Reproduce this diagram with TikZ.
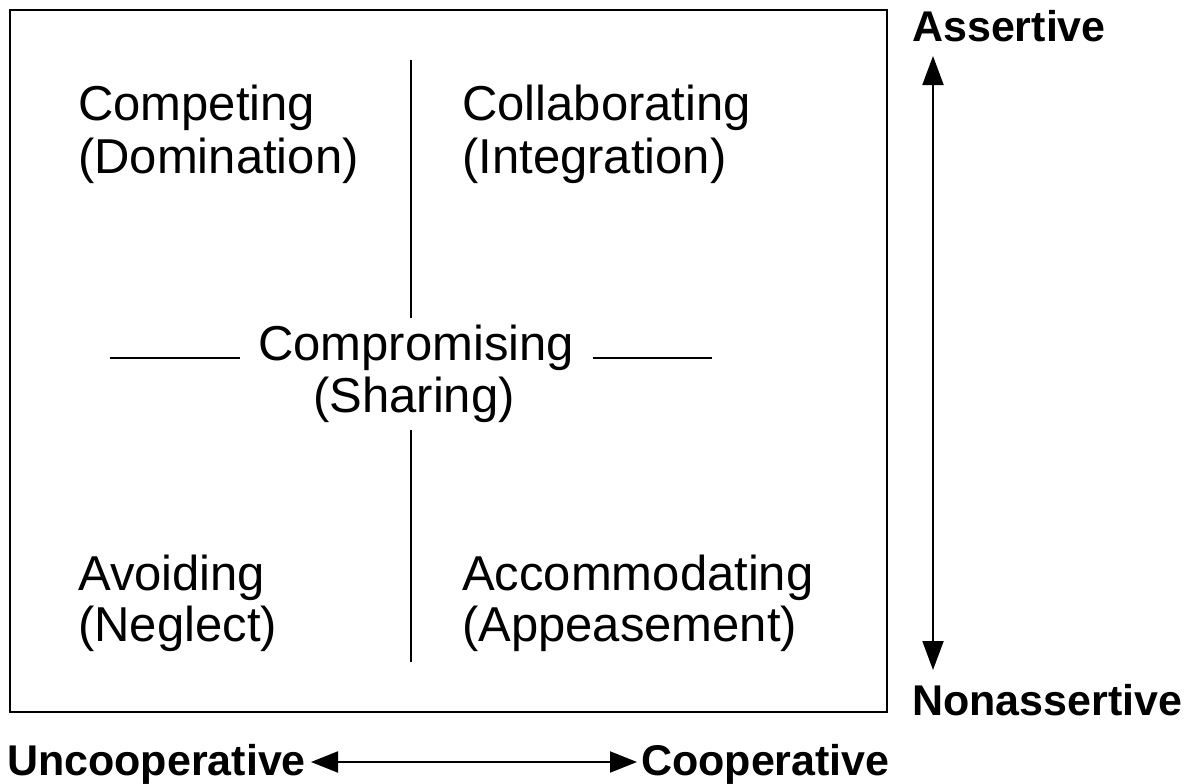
\documentclass[tikz,border=0pt]{standalone}
\usepackage{fontspec}
\setmainfont{Liberation Sans}
\usetikzlibrary{arrows.meta}
\tikzset{
  quad/.style={inner sep=0pt, anchor=base west, font=\fontsize{49}{53}\selectfont},
  mid/.style={inner sep=0pt, anchor=base, font=\fontsize{49}{53}\selectfont},
  axis/.style={inner sep=0pt, anchor=base west, font=\fontsize{43}{47}\selectfont\bfseries},
  frame/.style={line width=2pt},
  divider/.style={line width=2pt},
  dbl/.style={line width=2pt, {Triangle[length=29pt,width=21pt]}-{Triangle[length=29pt,width=21pt]}},
  dblh/.style={line width=2pt, {Triangle[length=27pt,width=21pt]}-{Triangle[length=27pt,width=21pt]}}
}
\begin{document}
\begin{tikzpicture}[x=1pt,y=-1pt]
\useasboundingbox (0,0) rectangle (1191,784);
\draw[frame] (10,10) rectangle (887,712);
% dividers
\coordinate (vt1) at (411,60);
\coordinate (vt2) at (411,318);
\coordinate (vb1) at (411,430);
\coordinate (vb2) at (411,662);
\coordinate (hl1) at (110,358);
\coordinate (hl2) at (240,358);
\coordinate (hr1) at (593,358);
\coordinate (hr2) at (712,358);
\draw[divider] (vt1) -- (vt2);
\draw[divider] (vb1) -- (vb2);
\draw[divider] (hl1) -- (hl2);
\draw[divider] (hr1) -- (hr2);
% quadrant labels
\node[quad] (compA) at (78,120) {Competing};
\node[quad] (compB) at (78,173) {(Domination)};
\node[quad] (collA) at (462,120) {Collaborating};
\node[quad] (collB) at (462,173) {(Integration)};
\node[mid] (cmpA) at (416,360) {Compromising};
\node[mid] (cmpB) at (414,412) {(Sharing)};
\node[quad] (avdA) at (78,590) {Avoiding};
\node[quad] (avdB) at (78,641) {(Neglect)};
\node[quad] (accA) at (462,590) {Accommodating};
\node[quad] (accB) at (462,641) {(Appeasement)};
% axes
\node[axis] (assert) at (912,42) {Assertive};
\node[axis] (nonassert) at (912,715) {Nonassertive};
\node[axis] (uncoop) at (7,775) {Uncooperative};
\node[axis] (coop) at (641,775) {Cooperative};
\coordinate (vtop) at (933,56);
\coordinate (vbot) at (933,670);
\draw[dbl] (vtop) -- (vbot);
\coordinate (hL) at (311,762);
\coordinate (hR) at (637,762);
\draw[dblh] (hL) -- (hR);
\end{tikzpicture}
\end{document}
